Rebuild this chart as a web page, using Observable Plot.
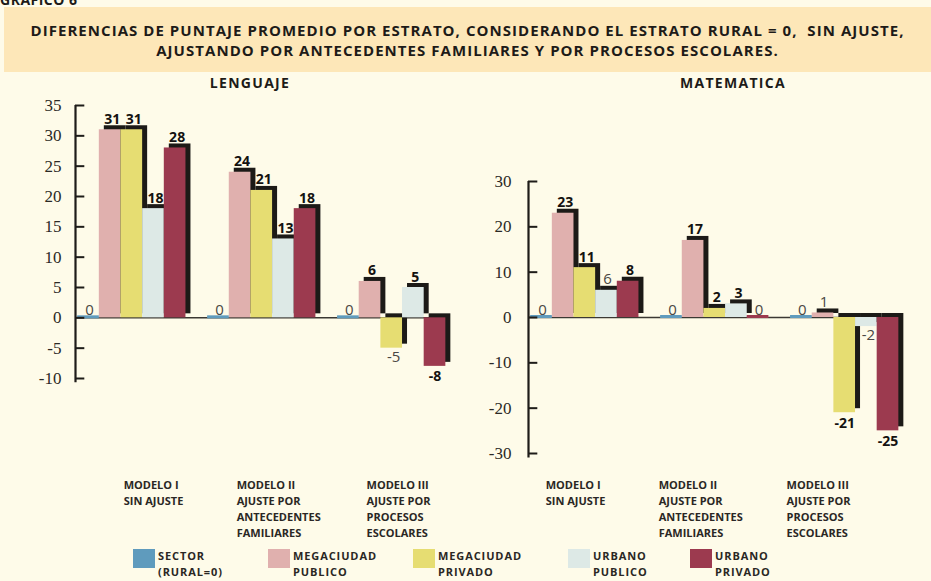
<!DOCTYPE html>
<html>
<head>
<meta charset="utf-8">
<script src="https://cdn.jsdelivr.net/npm/d3@7"></script>
<script src="https://cdn.jsdelivr.net/npm/@observablehq/plot@0.6"></script>
<style>
  html, body { margin: 0; padding: 0; background: #fefbe9; }
  #page { position: relative; width: 931px; height: 581px; overflow: hidden; background: #fefbe9;
          font-family: "Open Sans", "Noto Sans", sans-serif; color: #1d1b18; }
  #grafico { position: absolute; left: 0; top: -10px; font-weight: 700; font-size: 14px; letter-spacing: 0.5px; }
  #banner { position: absolute; left: 4px; top: 7px; width: 927px; height: 65px; background: #fde7b8;
            text-align: center; font-weight: 700; font-size: 15px; letter-spacing: 1.05px; line-height: 20px;
            padding-top: 13px; box-sizing: border-box; }
  .ptitle { position: absolute; top: 73px; font-weight: 700; font-size: 14px; letter-spacing: 1.3px;
            transform: translateX(-50%); white-space: nowrap; }
  .panel { position: absolute; top: 75px; }
  .legitem { position: absolute; top: 548px; }
  .legitem .sw { position: absolute; left: 0; top: 1px; width: 22px; height: 19px; }
  .legitem .lt { position: absolute; left: 25px; top: 0; font-size: 11px; font-weight: 700; line-height: 16px;
                 letter-spacing: 0.9px; white-space: nowrap; color: #2a2724; }
</style>
</head>
<body>
<div id="page">
  <div id="grafico">GRAFICO 6</div>
  <div id="banner">DIFERENCIAS DE PUNTAJE PROMEDIO POR ESTRATO, CONSIDERANDO EL ESTRATO RURAL = 0,&nbsp; SIN AJUSTE,<br>AJUSTANDO POR ANTECEDENTES FAMILIARES Y POR PROCESOS ESCOLARES.</div>
  <div class="ptitle" style="left:250px">LENGUAJE</div>
  <div class="ptitle" style="left:733px">MATEMATICA</div>
  <div id="left" class="panel" style="left:0px"></div>
  <div id="right" class="panel" style="left:470px"></div>
  <div id="legend"></div>
</div>
<script>
// ---- data ----
const seriesNames = [["SECTOR", "(RURAL=0)"], ["MEGACIUDAD", "PUBLICO"], ["MEGACIUDAD", "PRIVADO"], ["URBANO", "PUBLICO"], ["URBANO", "PRIVADO"]];
const modelLabels = [["MODELO I", "SIN AJUSTE"], ["MODELO II", "AJUSTE POR", "ANTECEDENTES", "FAMILIARES"], ["MODELO III", "AJUSTE POR", "PROCESOS", "ESCOLARES"]];
const lenguajeValues = [[0, 31, 31, 18, 28], [0, 24, 21, 13, 18], [0, 6, -5, 5, -8]];
const matematicaValues = [[0, 23, 11, 6, 8], [0, 17, 2, 3, 0], [0, 1, -21, -2, -25]];
// bold (significant) labels vs light labels
const lenguajeBold = [[false, true, true, true, true], [false, true, true, true, true], [false, true, false, true, true]];
const matematicaBold = [[false, true, true, false, true], [false, true, true, true, false], [false, false, true, false, true]];
const lenguajeTicks = [-10, -5, 0, 5, 10, 15, 20, 25, 30, 35];
const matematicaTicks = [-30, -20, -10, 0, 10, 20, 30];

// ---- styles ----
const palette = ["#5f9bbd", "#e0b0ae", "#e6dd72", "#dde9e6", "#9c3a4f"];
const shadowColor = "#1c1a17";
const legendLeft = [133, 268, 413, 568, 690];

function buildRows(values, bold) {
  const rows = [];
  values.forEach((grp, g) => grp.forEach((v, s) => {
    rows.push({g, s, value: v, bold: bold[g][s], x1: g * 6 + s, x2: g * 6 + s + 1, color: palette[s]});
  }));
  return rows;
}

function panel(values, bold, ticks, cfg) {
  const rows = buildRows(values, bold);
  const nz = rows.filter(d => d.value !== 0);
  const zr = rows.filter(d => d.value === 0);
  const lab = (filter, opts) => Plot.text(rows.filter(filter), {
    x: d => d.x1 + 0.5, y: "value", text: d => String(d.value), ...opts
  });
  const boldFont = {fontFamily: "Open Sans, sans-serif", fontWeight: 700, fontSize: 14, fill: "#141210", letterSpacing: "-0.5px"};
  const lightFont = {fontFamily: "Open Sans, sans-serif", fontWeight: 400, fontSize: 15, fill: "#4a4743"};
  const xEnd = values.length * 6 - 1;
  return Plot.plot({
    width: cfg.width, height: cfg.height,
    marginLeft: cfg.ml, marginRight: cfg.mr, marginTop: cfg.mt, marginBottom: cfg.mb,
    x: {domain: [-0.1, values.length * 6], axis: null},
    y: {domain: cfg.yDomain, axis: null},
    style: {background: "transparent", overflow: "visible"},
    marks: [
      Plot.ruleY([0], {x1: -0.1, x2: xEnd, stroke: "#3b3833", strokeWidth: 1.5}),
      Plot.rect(nz, {x1: "x1", x2: "x2", y1: 0, y2: "value", fill: shadowColor, dx: 5, dy: -4}),
      Plot.rect(nz, {x1: "x1", x2: "x2", y1: 0, y2: "value", fill: "color"}),
      Plot.ruleY(zr, {x1: "x1", x2: "x2", y: 0, stroke: "color", strokeWidth: 3, dy: -1}),
      Plot.ruleX([-0.1], {y1: cfg.axisBottom, y2: cfg.yDomain[1], stroke: "#1e1c19", strokeWidth: 2.2}),
      Plot.ruleY(ticks, {x1: -0.1, x2: 0.33, stroke: "#1e1c19", strokeWidth: 2}),
      Plot.text(ticks, {x: -0.1, y: d => d, text: d => String(d), textAnchor: "end", dx: cfg.tickDx,
        fontFamily: "Liberation Serif, serif", fontSize: 17, fill: "#2b2925"}),
      lab(d => d.bold && d.value > 0, {...boldFont, lineAnchor: "bottom", dy: -6, dx: 2}),
      lab(d => d.bold && d.value < 0, {...boldFont, lineAnchor: "top", dy: 5}),
      lab(d => !d.bold && d.value > 0, {...lightFont, lineAnchor: "bottom", dy: -6, dx: 1}),
      lab(d => !d.bold && d.value < 0, {...lightFont, lineAnchor: "top", dy: 3, dx: 2}),
      lab(d => !d.bold && d.value === 0, {...lightFont, lineAnchor: "bottom", dy: -3, dx: 1}),
      ...modelLabels.map((lines, i) => Plot.text([lines.join("\n")], {
        x: i * 6 + cfg.labelOff, frameAnchor: "bottom", dy: cfg.labelDy, dx: cfg.labelNudge[i],
        textAnchor: "start", lineAnchor: "top", lineHeight: 1.45,
        fontFamily: "Open Sans, sans-serif", fontWeight: 700, fontSize: 11, letterSpacing: "0.75px", fill: "#2a2724"
      }))
    ]
  });
}

document.getElementById("left").append(panel(lenguajeValues, lenguajeBold, lenguajeTicks, {
  width: 470, height: 470, ml: 75, mr: 3, mt: 30, mb: 167, yDomain: [-10, 35], axisBottom: -10.7,
  tickDx: -14, labelOff: 1.34, labelDy: 99, labelNudge: [17, 0, 0]
}));
document.getElementById("right").append(panel(matematicaValues, matematicaBold, matematicaTicks, {
  width: 461, height: 470, ml: 58, mr: 11, mt: 106, mb: 92, yDomain: [-30, 30], axisBottom: -31,
  tickDx: -17, labelOff: -0.09, labelDy: 24, labelNudge: [17, 0, -2]
}));

const legend = document.getElementById("legend");
seriesNames.forEach((lines, i) => {
  const item = document.createElement("div");
  item.className = "legitem";
  item.style.left = legendLeft[i] + "px";
  const sw = document.createElement("div");
  sw.className = "sw";
  sw.style.background = palette[i];
  const lt = document.createElement("div");
  lt.className = "lt";
  lt.innerHTML = lines.join("<br>");
  item.append(sw, lt);
  legend.append(item);
});
</script>
</body>
</html>
